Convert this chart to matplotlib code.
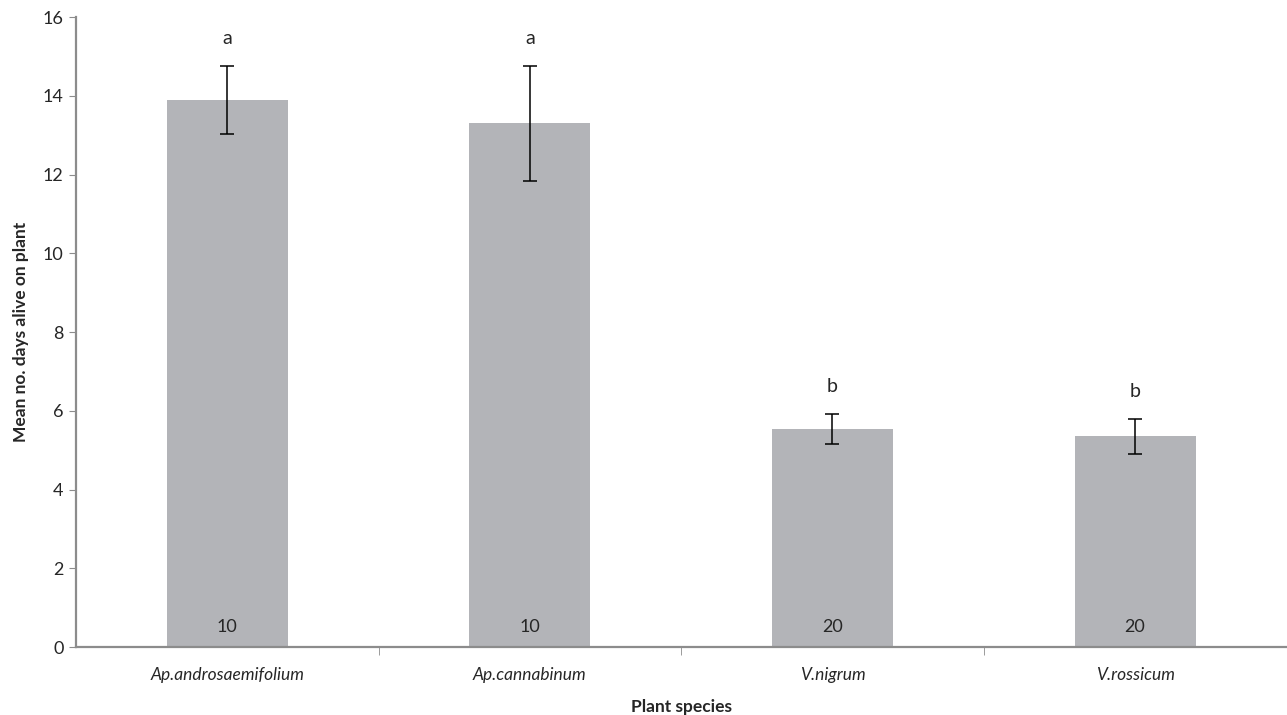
import matplotlib
matplotlib.use("Agg")
import matplotlib.pyplot as plt
import numpy as np

plt.rcParams["font.family"] = ["Lato", "DejaVu Sans"]

species = ["Ap.androsaemifolium", "Ap.cannabinum", "V.nigrum", "V.rossicum"]
mean_days = [13.9, 13.3, 5.55, 5.35]
sem_days = [0.87, 1.47, 0.38, 0.45]
group_letters = ["a", "a", "b", "b"]
n_plants = [10, 10, 20, 20]

BAR_COLOR = "#b3b4b8"
AXIS_COLOR = "#8c8c8c"
TEXT_COLOR = "#262626"

fig = plt.figure(figsize=(12.87, 7.15), dpi=100)
ax = fig.add_axes([0.059, 0.095, 0.9405, 0.881])

x = np.arange(len(species))
ax.bar(x, mean_days, width=0.4, color=BAR_COLOR, zorder=2)
ax.errorbar(x, mean_days, yerr=sem_days, fmt="none", ecolor="black",
            elinewidth=1.1, capsize=5, capthick=1.1, zorder=3)

# significance letters above the error bars, sample sizes inside the bars
for xi, m, e, lab, n in zip(x, mean_days, sem_days, group_letters, n_plants):
    ax.text(xi, m + e + 0.55, lab, ha="center", va="baseline", fontsize=14,
            color=TEXT_COLOR)
    ax.text(xi, 0.5, str(n), ha="center", va="center", fontsize=13,
            color=TEXT_COLOR)

ax.set_xlim(-0.5, len(species) - 0.5)
ax.set_ylim(0, 16)
ax.set_yticks(range(0, 17, 2))
ax.tick_params(axis="y", length=5, color=AXIS_COLOR, labelsize=13,
               labelcolor=TEXT_COLOR, pad=4)

# category labels centred, tick marks at category boundaries
ax.set_xticks(x)
ax.set_xticklabels(species, fontstyle="italic", fontsize=12.5, color=TEXT_COLOR)
ax.tick_params(axis="x", length=0, pad=14)
ax.set_xticks(np.arange(0.5, len(species) - 0.5, 1.0), minor=True)
ax.tick_params(axis="x", which="minor", length=6, color=AXIS_COLOR)

for side in ("top", "right"):
    ax.spines[side].set_visible(False)
for side in ("left", "bottom"):
    ax.spines[side].set_color(AXIS_COLOR)
    ax.spines[side].set_linewidth(1.6)

ax.set_xlabel("Plant species", fontsize=12.5, fontweight="bold",
              color=TEXT_COLOR, labelpad=12)
ax.set_ylabel("Mean no. days alive on plant", fontsize=12.5, fontweight="bold",
              color=TEXT_COLOR, labelpad=10)

fig.savefig("out.png", dpi=100)
